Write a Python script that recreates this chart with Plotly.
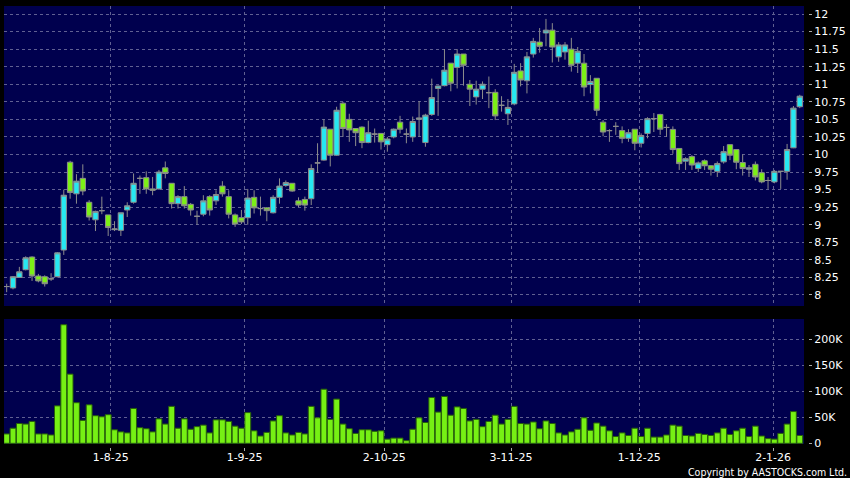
import plotly.graph_objects as go
import numpy as np

# ---------------- data ----------------
day_index = list(range(126))

opens = [8.12, 8.10, 8.25, 8.36, 8.54, 8.27, 8.26, 8.23, 8.26, 8.64,
         9.89, 9.44, 9.66, 9.32, 9.07, 9.20, 9.14, 8.93, 8.92, 9.21,
         9.32, 9.66, 9.67, 9.51, 9.51, 9.81, 9.59, 9.30, 9.40, 9.29,
         9.12, 9.15, 9.40, 9.34, 9.55, 9.40, 9.14, 9.10, 9.10, 9.39,
         9.23, 9.24, 9.17, 9.39, 9.56, 9.59, 9.34, 9.36, 9.37, 9.88,
         9.92, 10.36, 9.99, 10.73, 10.50, 10.37, 10.39, 10.17, 10.29, 10.30,
         10.14, 10.25, 10.46, 10.29, 10.25, 10.50, 10.17, 10.57, 10.94, 10.98,
         11.30, 11.24, 11.43, 11.00, 10.82, 10.93, 10.88, 10.885, 10.70, 10.58,
         10.72, 11.19, 11.05, 11.43, 11.60, 11.73, 11.77, 11.39, 11.46, 11.50,
         11.30, 11.30, 10.995, 11.085, 10.46, 10.34, 10.40, 10.34, 10.23, 10.36,
         10.16, 10.30, 10.51, 10.57, 10.385, 10.357, 10.086, 9.905, 9.97, 9.80,
         9.91, 9.84, 9.76, 9.895, 10.14, 10.07, 9.885, 9.79, 9.86, 9.74,
         9.63, 9.61, 9.76, 9.76, 10.095, 10.68]

highs = [8.16, 8.27, 8.40, 8.55, 8.55, 8.30, 8.28, 8.31, 8.61, 9.50,
         9.91, 9.72, 9.86, 9.35, 9.20, 9.40, 9.14, 9.05, 9.17, 9.32,
         9.73, 9.70, 9.76, 9.68, 9.78, 9.90, 9.59, 9.42, 9.55, 9.31,
         9.20, 9.42, 9.42, 9.49, 9.62, 9.49, 9.16, 9.21, 9.51, 9.49,
         9.40, 9.25, 9.42, 9.66, 9.63, 9.59, 9.39, 9.40, 9.86, 10.16,
         10.50, 10.36, 10.68, 10.75, 10.58, 10.37, 10.40, 10.48, 10.37, 10.30,
         10.25, 10.37, 10.55, 10.37, 10.54, 10.76, 10.58, 11.08, 10.98, 11.50,
         11.30, 11.50, 11.43, 11.06, 11.05, 11.04, 11.11, 10.93, 10.83, 10.79,
         11.29, 11.30, 11.46, 11.66, 11.80, 11.93, 11.87, 11.60, 11.60, 11.66,
         11.53, 11.43, 11.13, 11.085, 10.49, 10.36, 10.46, 10.40, 10.36, 10.36,
         10.30, 10.53, 10.59, 10.58, 10.43, 10.40, 10.09, 9.96, 9.99, 9.90,
         9.93, 9.85, 9.90, 10.12, 10.14, 10.07, 10.00, 9.85, 9.90, 9.79,
         9.68, 9.78, 9.76, 10.15, 10.69, 10.85]

lows = [8.04, 8.08, 8.25, 8.35, 8.20, 8.18, 8.12, 8.20, 8.25, 8.57,
        9.37, 9.30, 9.42, 9.06, 8.91, 9.15, 8.84, 8.91, 8.84, 9.11,
        9.30, 9.44, 9.44, 9.42, 9.50, 9.66, 9.23, 9.23, 9.23, 9.13,
        9.00, 9.12, 9.13, 9.28, 9.40, 9.09, 8.97, 9.01, 9.00, 9.16,
        9.13, 9.05, 9.16, 9.30, 9.54, 9.47, 9.25, 9.20, 9.28, 9.74,
        9.91, 9.83, 9.98, 10.25, 10.18, 10.12, 10.09, 10.16, 10.17, 10.07,
        10.04, 10.23, 10.30, 10.16, 10.18, 10.25, 10.11, 10.55, 10.55, 10.97,
        10.90, 10.94, 10.98, 10.69, 10.71, 10.79, 10.66, 10.49, 10.61, 10.42,
        10.70, 10.97, 10.87, 11.38, 11.45, 11.54, 11.31, 11.32, 11.35, 11.18,
        11.16, 10.83, 10.87, 10.55, 10.26, 10.18, 10.28, 10.16, 10.18, 10.06,
        10.10, 10.23, 10.32, 10.28, 10.25, 10.01, 9.78, 9.78, 9.78, 9.75,
        9.78, 9.70, 9.68, 9.87, 9.92, 9.79, 9.70, 9.68, 9.63, 9.59,
        9.51, 9.59, 9.51, 9.64, 10.09, 10.66]

closes = [8.12, 8.26, 8.33, 8.53, 8.27, 8.20, 8.16, 8.23, 8.60, 9.42,
          9.46, 9.62, 9.48, 9.11, 9.19, 9.20, 8.96, 8.94, 9.17, 9.27,
          9.59, 9.66, 9.51, 9.49, 9.75, 9.73, 9.30, 9.40, 9.27, 9.21,
          9.12, 9.34, 9.21, 9.43, 9.44, 9.15, 9.01, 9.04, 9.38, 9.24,
          9.23, 9.20, 9.39, 9.55, 9.60, 9.48, 9.28, 9.28, 9.80, 9.88,
          10.39, 9.99, 10.63, 10.37, 10.35, 10.31, 10.17, 10.31, 10.29, 10.18,
          10.22, 10.36, 10.36, 10.29, 10.47, 10.52, 10.56, 10.81, 10.975, 11.20,
          11.015, 11.43, 11.27, 10.93, 10.93, 11.00, 10.88, 10.55, 10.70, 10.67,
          11.17, 11.06, 11.39, 11.61, 11.54, 11.77, 11.53, 11.56, 11.56, 11.27,
          11.47, 10.96, 11.04, 10.63, 10.32, 10.34, 10.40, 10.23, 10.31, 10.16,
          10.27, 10.51, 10.51, 10.36, 10.385, 10.07, 9.87, 9.94, 9.85, 9.88,
          9.84, 9.79, 9.87, 10.04, 9.99, 9.89, 9.80, 9.81, 9.68, 9.61,
          9.63, 9.76, 9.76, 10.07, 10.66, 10.83]

volumes_k = [18, 29, 38, 37, 42, 18, 18, 16, 72, 228,
             133, 78, 44, 74, 53, 51, 55, 26, 22, 20,
             67, 30, 28, 22, 47, 37, 71, 29, 47, 27,
             32, 35, 20, 45, 45, 42, 33, 29, 59, 24,
             14, 21, 43, 53, 20, 16, 21, 18, 71, 49,
             104, 46, 85, 37, 28, 19, 26, 26, 23, 24,
             8, 10, 10, 5, 27, 49, 40, 88, 60, 90,
             54, 70, 67, 43, 46, 32, 42, 54, 37, 46,
             71, 38, 37, 41, 28, 43, 38, 20, 16, 22,
             27, 49, 25, 39, 33, 24, 13, 20, 15, 29,
             13, 29, 12, 12, 16, 35, 33, 15, 14, 19,
             17, 15, 20, 29, 17, 24, 29, 13, 33, 14,
             9, 8, 19, 37, 61, 15]

date_tick_labels = ["1-8-25", "1-9-25", "2-10-25", "3-11-25", "1-12-25", "2-1-26"]
date_tick_index = [16.4, 37.5, 59.5, 79.5, 99.7, 120.8]

price_tick_values = [8, 8.25, 8.5, 8.75, 9, 9.25, 9.5, 9.75, 10,
                     10.25, 10.5, 10.75, 11, 11.25, 11.5, 11.75, 12]
price_tick_labels = ["8", "8.25", "8.5", "8.75", "9", "9.25", "9.5", "9.75", "10",
                     "10.25", "10.5", "10.75", "11", "11.25", "11.5", "11.75", "12"]

volume_tick_values = [0, 50000, 100000, 150000, 200000]
volume_tick_labels = ["0", "50K", "100K", "150K", "200K"]

# ---------------- styling ----------------
NAVY = "rgb(0,0,78)"
GRID = "rgb(96,96,146)"
UP = "rgb(38,232,242)"
DOWN = "rgb(124,240,22)"
EDGE = "rgb(140,140,140)"
VOL = "rgb(118,240,20)"
VOL_EDGE = "rgb(40,96,10)"
AXFONT = dict(family="DejaVu Sans, Verdana, sans-serif", size=11, color="white")

x = np.array(day_index)
o = np.array(opens); h = np.array(highs); l = np.array(lows); c = np.array(closes)
up = c > o
dn = c < o
flat = c == o

fig = go.Figure()


def candle(mask, fill):
    return go.Candlestick(
        x=x[mask], open=o[mask], high=h[mask], low=l[mask], close=c[mask],
        increasing=dict(fillcolor=fill, line=dict(color=EDGE, width=1)),
        decreasing=dict(fillcolor=fill, line=dict(color=EDGE, width=1)),
        whiskerwidth=0, xaxis="x", yaxis="y", showlegend=False, hoverinfo="skip",
    )


fig.add_trace(candle(up, UP))
fig.add_trace(candle(dn, DOWN))
fig.add_trace(candle(flat, EDGE))

fig.add_trace(go.Bar(
    x=x, y=np.array(volumes_k) * 1000, xaxis="x2", yaxis="y2",
    marker=dict(color=VOL, line=dict(color=VOL_EDGE, width=1)),
    showlegend=False, hoverinfo="skip",
))

# plotting area: x 4..812, y 6..447
W, H = 850, 478
L, R, T, B = 4, 38, 6, 31
pw = W - L - R
ph = H - T - B
xdom_end = (808 - L) / pw
price_dom = [(H - B - 306) / ph, 1.0]
vol_dom = [(H - B - 444) / ph, (H - B - 319) / ph]
xrange = [-0.42, 125.67]

grid_common = dict(showgrid=True, gridcolor=GRID, griddash="3px,3px", gridwidth=1,
                   zeroline=False, showline=False)

fig.update_layout(
    width=W, height=H,
    margin=dict(l=L, r=R, t=T, b=B),
    paper_bgcolor="black", plot_bgcolor=NAVY,
    boxgap=0.16, boxgroupgap=0, bargap=0.08,
    showlegend=False,
    xaxis=dict(domain=[0, xdom_end], range=xrange, anchor="y",
               tickvals=date_tick_index, ticktext=date_tick_labels,
               showticklabels=False, ticks="",
               rangeslider=dict(visible=False), **grid_common),
    yaxis=dict(domain=price_dom, range=[7.843, 12.114], anchor="free", position=1,
               side="right", tickvals=price_tick_values, ticktext=price_tick_labels,
               ticks="outside", ticklen=3, tickcolor="rgb(170,170,170)", tickwidth=1,
               tickfont=AXFONT, **grid_common),
    xaxis2=dict(domain=[0, xdom_end], range=xrange, anchor="free", position=0,
                tickvals=date_tick_index, ticktext=date_tick_labels,
                ticks="outside", ticklen=3, tickcolor="rgb(170,170,170)", tickwidth=1,
                ticklabelstandoff=-3,
                tickfont=AXFONT, **grid_common),
    yaxis2=dict(domain=vol_dom, range=[-1350, 239000], anchor="free", position=1,
                side="right", tickvals=volume_tick_values, ticktext=volume_tick_labels,
                ticks="outside", ticklen=3, tickcolor="rgb(170,170,170)", tickwidth=1,
                tickfont=AXFONT, **grid_common),
    annotations=[dict(
        text="Copyright by AASTOCKS.com Ltd.", xref="paper", yref="paper",
        x=(853 - L) / pw, y=(H - B - 471.5) / ph, xanchor="right", yanchor="middle",
        showarrow=False,
        font=dict(family="Liberation Sans Narrow, DejaVu Sans Condensed, Liberation Sans, sans-serif",
                  size=10.5, color="white"),
    )],
)

fig.write_html(
    "out.html",
    config={"displayModeBar": False},
    post_script="document.body.style.margin='0px';document.body.style.overflow='hidden';",
)
